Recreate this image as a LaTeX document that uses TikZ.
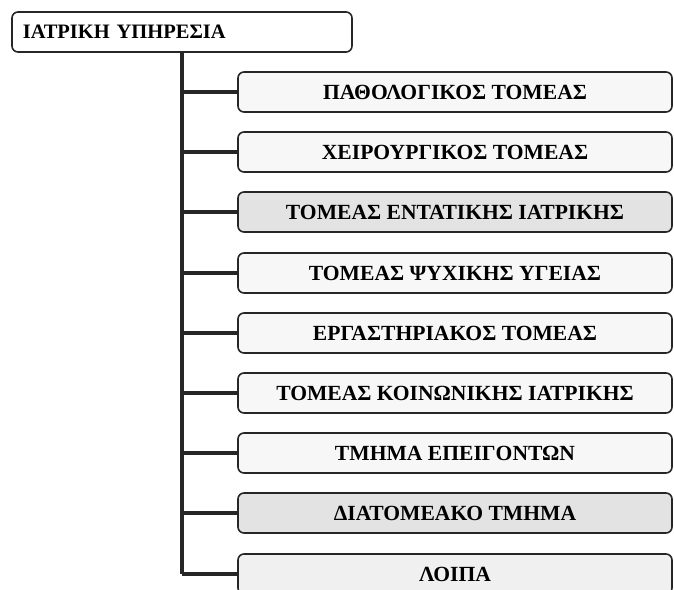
\documentclass[tikz,border=0pt]{standalone}
\usepackage{fontspec}
\setmainfont{Liberation Serif}
\begin{document}
\begin{tikzpicture}[x=1pt,y=1pt,
  box/.style={draw=black!85, line width=1.6pt, rounded corners=6pt, fill=gray!6,
    minimum width=434pt, minimum height=40pt, inner sep=0pt,
    font=\fontsize{21.6}{24}\selectfont\bfseries},
  shaded/.style={box, fill=gray!22},
  rootbox/.style={draw=black!85, line width=1.6pt, rounded corners=6pt, fill=white,
    minimum height=40pt, text width=318pt, inner xsep=11pt, inner ysep=0pt, align=left,
    font=\fontsize{20.5}{24}\selectfont\bfseries},
  link/.style={line width=4.5pt, black!85}]
\useasboundingbox (0,0) rectangle (674,-589);
\clip (0,0) rectangle (674,-589);
\node[rootbox] (root) at (182,-32) {ΙΑΤΡΙΚΗ ΥΠΗΡΕΣΙΑ};
\node[box] (b1) at (455,-92) {ΠΑΘΟΛΟΓΙΚΟΣ ΤΟΜΕΑΣ};
\node[box] (b2) at (455,-152) {ΧΕΙΡΟΥΡΓΙΚΟΣ ΤΟΜΕΑΣ};
\node[shaded] (b3) at (455,-212) {ΤΟΜΕΑΣ ΕΝΤΑΤΙΚΗΣ ΙΑΤΡΙΚΗΣ};
\node[box] (b4) at (455,-273) {ΤΟΜΕΑΣ ΨΥΧΙΚΗΣ ΥΓΕΙΑΣ};
\node[box] (b5) at (455,-333) {ΕΡΓΑΣΤΗΡΙΑΚΟΣ ΤΟΜΕΑΣ};
\node[box] (b6) at (455,-393) {ΤΟΜΕΑΣ ΚΟΙΝΩΝΙΚΗΣ ΙΑΤΡΙΚΗΣ};
\node[box] (b7) at (455,-453) {ΤΜΗΜΑ ΕΠΕΙΓΟΝΤΩΝ};
\node[shaded] (b8) at (455,-513) {ΔΙΑΤΟΜΕΑΚΟ ΤΜΗΜΑ};
\node[box, fill=gray!12] (b9) at (455,-574) {ΛΟΙΠΑ};
\draw[link] (root.south) -- (root.south |- b9.west);
\foreach \b in {b1,b2,b3,b4,b5,b6,b7,b8,b9}
  \draw[link] (root.south |- \b.west) -- (\b.west);
\end{tikzpicture}
\end{document}
